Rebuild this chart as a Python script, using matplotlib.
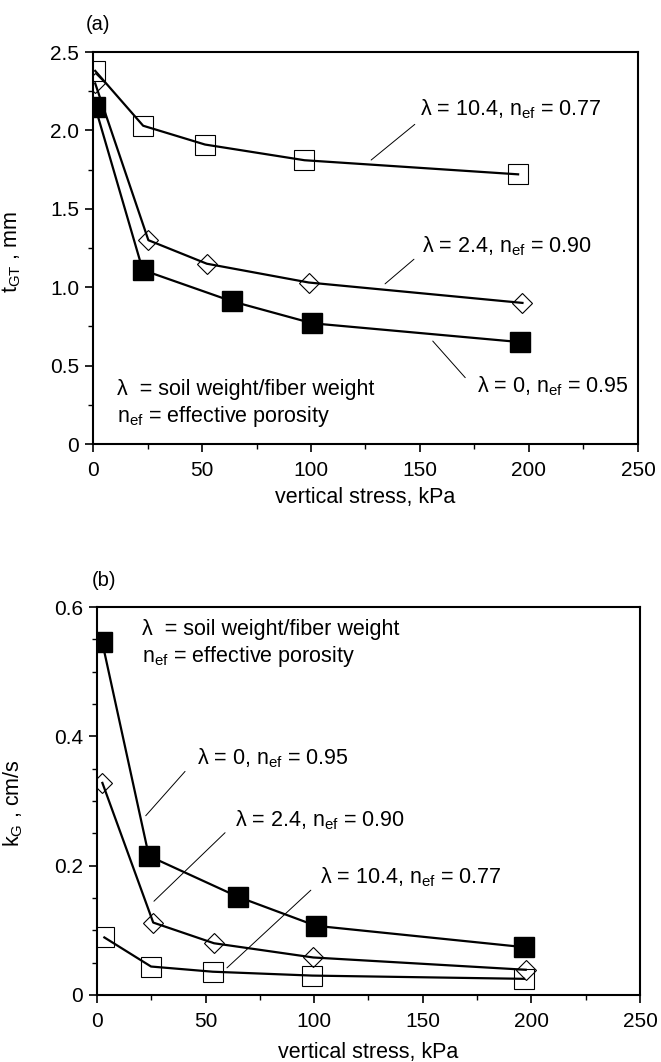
import matplotlib
matplotlib.use("Agg")
import matplotlib.pyplot as plt
from matplotlib.ticker import MultipleLocator

plt.rcParams['font.family'] = ['Liberation Sans', 'DejaVu Sans']
plt.rcParams['mathtext.fontset'] = 'custom'
plt.rcParams['mathtext.rm'] = 'Liberation Sans'
plt.rcParams['mathtext.it'] = 'Liberation Sans:italic'
plt.rcParams['mathtext.bf'] = 'Liberation Sans:bold'

# Dati
# (a) spessore t_GT [mm] in funzione dello sforzo verticale [kPa]
stress_a_l0 = [1, 22.8, 63.8, 100.6, 196]
t_a_l0 = [2.15, 1.11, 0.91, 0.77, 0.65]
stress_a_l24 = [1, 25.4, 52.2, 99, 197]
t_a_l24 = [2.30, 1.30, 1.15, 1.03, 0.90]
stress_a_l104 = [1, 23, 51.4, 97, 195]
t_a_l104 = [2.38, 2.03, 1.91, 1.81, 1.72]

# (b) permeabilita k_G [cm/s]
stress_b_l0 = [2.4, 23.9, 64.8, 100.8, 196.6]
k_b_l0 = [0.546, 0.215, 0.152, 0.107, 0.074]
stress_b_l24 = [2.5, 25.9, 53.9, 99.6, 197.4]
k_b_l24 = [0.328, 0.112, 0.080, 0.058, 0.039]
stress_b_l104 = [3.4, 24.9, 53.3, 99.1, 196.6]
k_b_l104 = [0.089, 0.044, 0.036, 0.030, 0.025]

x_ticks = [0, 50, 100, 150, 200, 250]
x_ticklabels = ['0', '50', '100', '150', '200', '250']
ya_ticks = [0, 0.5, 1.0, 1.5, 2.0, 2.5]
ya_ticklabels = ['0', '0.5', '1.0', '1.5', '2.0', '2.5']
yb_ticks = [0, 0.2, 0.4, 0.6]
yb_ticklabels = ['0', '0.2', '0.4', '0.6']

lab_0 = r'λ = 0, n$_{\mathrm{ef}}$ = 0.95'
lab_24 = r'λ = 2.4, n$_{\mathrm{ef}}$ = 0.90'
lab_104 = r'λ = 10.4, n$_{\mathrm{ef}}$ = 0.77'
note_1 = 'λ  = soil weight/fiber weight'
note_2 = r'n$_{\mathrm{ef}}$ = effective porosity'

FS = 15.5


def stile_assi(ax, yticks, yticklabels, ymax, yminor):
    ax.set_xlim(0, 250)
    ax.set_ylim(0, ymax)
    ax.set_xticks(x_ticks)
    ax.set_xticklabels(x_ticklabels)
    ax.set_yticks(yticks)
    ax.set_yticklabels(yticklabels)
    ax.xaxis.set_minor_locator(MultipleLocator(25))
    ax.yaxis.set_minor_locator(MultipleLocator(yminor))
    ax.tick_params(which='major', direction='out', length=6, width=1.2, labelsize=15)
    ax.tick_params(which='minor', direction='out', length=3.5, width=1)
    ax.tick_params(axis='x', which='major', pad=6)
    ax.tick_params(axis='y', which='major', pad=4)
    for sp in ax.spines.values():
        sp.set_linewidth(1.5)


def curve(ax, x0, y0, x24, y24, x104, y104):
    ax.plot(x104, y104, color='k', lw=1.6, marker='s', ms=14, mfc='none', mec='k', mew=0.8)
    ax.plot(x24, y24, color='k', lw=1.6, marker='D', ms=10, mfc='none', mec='k', mew=0.8)
    ax.plot(x0, y0, color='k', lw=1.6, marker='s', ms=14, mfc='k', mec='k')


def leader(ax, p1, p2):
    ax.annotate('', xy=p2, xytext=p1, arrowprops=dict(arrowstyle='-', lw=0.7, color='k'))


fig = plt.figure(figsize=(6.61, 10.62), dpi=100)

# Grafico (a)
ax1 = fig.add_axes([0.1407, 0.5819, 0.8245, 0.3691])
curve(ax1, stress_a_l0, t_a_l0, stress_a_l24, t_a_l24, stress_a_l104, t_a_l104)
stile_assi(ax1, ya_ticks, ya_ticklabels, 2.5, 0.25)
ax1.set_xlabel('vertical stress, kPa', fontsize=FS)
ax1.set_ylabel(r't$_{\mathrm{GT}}$ , mm', fontsize=FS)
ax1.xaxis.set_label_coords(0.5, -0.11)
ax1.yaxis.set_label_coords(-0.128, 0.49)
ax1.text(150, 2.098, lab_104, fontsize=FS, va='baseline')
ax1.text(151, 1.224, lab_24, fontsize=FS, va='baseline')
ax1.text(176, 0.332, lab_0, fontsize=FS, va='baseline')
leader(ax1, (148.6, 2.05), (126.6, 1.80))
leader(ax1, (148.2, 1.19), (133, 1.01))
leader(ax1, (171.6, 0.41), (155, 0.67))
ax1.text(11, 0.3125, note_1, fontsize=FS, va='baseline')
ax1.text(11, 0.14, note_2, fontsize=FS, va='baseline')
fig.text(86 / 661, 1 - 25 / 1062, '(a)', fontsize=14.5, va='center')

# Grafico (b)
ax2 = fig.add_axes([0.1467, 0.0631, 0.8215, 0.3653])
curve(ax2, stress_b_l0, k_b_l0, stress_b_l24, k_b_l24, stress_b_l104, k_b_l104)
stile_assi(ax2, yb_ticks, yb_ticklabels, 0.6, 0.05)
ax2.set_xlabel('vertical stress, kPa', fontsize=FS)
ax2.set_ylabel(r'k$_{\mathrm{G}}$ , cm/s', fontsize=FS)
ax2.xaxis.set_label_coords(0.5, -0.122)
ax2.yaxis.set_label_coords(-0.132, 0.495)
ax2.text(46, 0.357, lab_0, fontsize=FS, va='baseline')
ax2.text(63.5, 0.260, lab_24, fontsize=FS, va='baseline')
ax2.text(102.7, 0.173, lab_104, fontsize=FS, va='baseline')
leader(ax2, (41.4, 0.349), (21.6, 0.274))
leader(ax2, (59.9, 0.254), (25.3, 0.142))
leader(ax2, (99.4, 0.165), (58.9, 0.039))
ax2.text(20.7, 0.557, note_1, fontsize=FS, va='baseline')
ax2.text(20.7, 0.515, note_2, fontsize=FS, va='baseline')
fig.text(92 / 661, 1 - 581 / 1062, '(b)', fontsize=14.5, va='center')

plt.savefig('out.png', dpi=100)
plt.close()
